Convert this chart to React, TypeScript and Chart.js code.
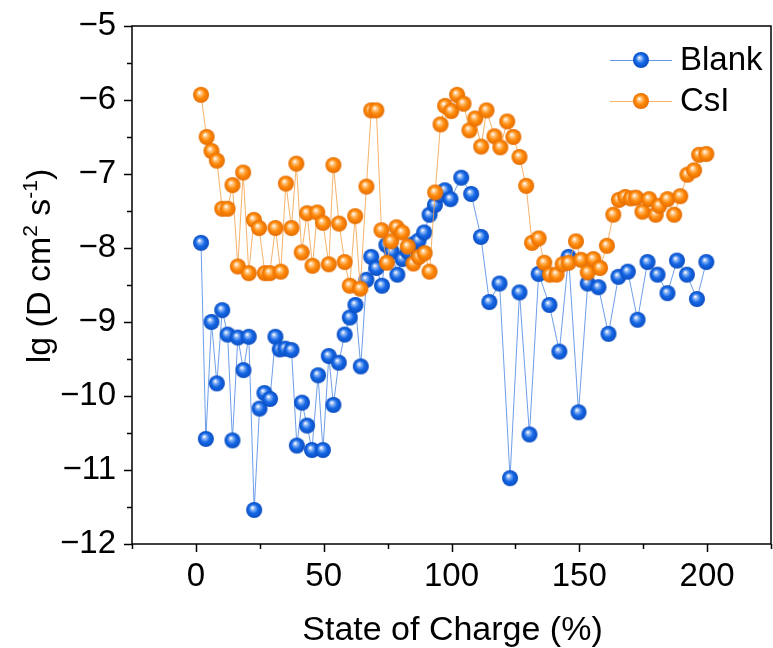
import React, { useEffect, useRef } from "react";
import { Chart, registerables } from "chart.js";

Chart.register(...registerables);

// ---- data ----
const blankX = [2, 3.9, 6.1, 8.2, 10.3, 12.4, 14.3, 16.4, 18.6, 20.7, 22.8, 24.9, 26.8, 29, 31.1, 32.8, 35, 37.4, 39.5, 41.5, 43.5, 45.4, 47.8, 49.7, 52, 53.8, 55.9, 58.2, 60.2, 62.4, 64.5, 66.7, 68.6, 70.6, 72.8, 74.5, 76.6, 78.8, 80.8, 82.9, 85, 87.1, 89.3, 91.4, 93.5, 95.6, 97.4, 99.6, 103.8, 107.7, 111.5, 114.8, 118.8, 122.9, 126.6, 130.5, 134.1, 138.3, 142.2, 145.8, 149.7, 153.3, 157.5, 161.4, 165.3, 169, 172.8, 176.7, 180.6, 184.5, 188.2, 192.1, 196, 199.7];
const blankY = [-7.93, -10.58, -9.0, -9.83, -8.84, -9.17, -10.6, -9.21, -9.65, -9.2, -11.54, -10.17, -9.96, -10.04, -9.2, -9.37, -9.36, -9.38, -10.67, -10.09, -10.4, -10.73, -9.72, -10.73, -9.46, -10.12, -9.55, -9.17, -8.94, -8.77, -9.6, -8.43, -8.12, -8.27, -8.51, -7.96, -8.05, -8.36, -8.15, -8.05, -7.95, -7.9, -7.79, -7.55, -7.42, -7.28, -7.22, -7.34, -7.05, -7.27, -7.85, -8.73, -8.48, -11.11, -8.6, -10.52, -8.35, -8.77, -9.4, -8.12, -10.22, -8.48, -8.53, -9.16, -8.39, -8.32, -8.97, -8.19, -8.36, -8.61, -8.17, -8.36, -8.69, -8.19];

const csiX = [2, 4.2, 6.1, 8.2, 10.3, 12.4, 14.3, 16.4, 18.5, 20.7, 22.7, 24.7, 27, 28.9, 31.1, 33.2, 35.2, 37.4, 39.3, 41.4, 43.5, 45.6, 47.5, 49.7, 52, 53.8, 56, 58.2, 60.2, 62.3, 64.3, 66.7, 68.6, 70.6, 72.6, 74.7, 76.4, 78.5, 80.7, 82.9, 85.1, 87.3, 89.5, 91.4, 93.6, 95.7, 97.5, 99.9, 102.2, 104.7, 107, 109.3, 111.6, 113.7, 116.8, 119.1, 121.8, 124.2, 126.6, 129.2, 131.5, 134.1, 136.3, 138.5, 141.1, 143.5, 145.8, 148.7, 150.7, 153.3, 155.5, 158.1, 160.8, 163.3, 165.5, 168, 170.2, 172.2, 174.7, 177.3, 179.9, 181.3, 184.5, 187.1, 189.5, 192.3, 194.9, 196.9, 199.7];
const csiY = [-5.93, -6.5, -6.69, -6.82, -7.47, -7.47, -7.15, -8.25, -6.98, -8.34, -7.62, -7.73, -8.34, -8.34, -7.73, -8.32, -7.13, -7.73, -6.86, -8.06, -7.53, -8.24, -7.52, -7.66, -8.22, -6.88, -7.67, -8.19, -8.51, -7.57, -8.55, -7.17, -6.14, -6.14, -7.76, -8.2, -7.91, -7.72, -7.79, -7.98, -8.21, -8.12, -8.07, -8.32, -7.25, -6.33, -6.08, -6.15, -5.93, -6.05, -6.41, -6.25, -6.63, -6.14, -6.49, -6.64, -6.29, -6.5, -6.77, -7.16, -7.93, -7.87, -8.2, -8.36, -8.36, -8.22, -8.2, -7.91, -8.16, -8.33, -8.15, -8.27, -7.97, -7.55, -7.35, -7.31, -7.33, -7.32, -7.51, -7.34, -7.55, -7.43, -7.34, -7.55, -7.3, -7.01, -6.95, -6.74, -6.73];

const seriesNames = ["Blank", "CsI"];
const xTitle = "State of Charge (%)";
const xMin = -25, xMax = 225, xStep = 25;
const yMin = -12, yMax = -5, yStep = 0.5;

const FONT = 'Arial, "Liberation Sans", sans-serif';

function makeSphere(r: number, light: string, base: string, dark: string) {
  const size = 2 * r + 2;
  const c = document.createElement("canvas");
  c.width = size;
  c.height = size;
  const ctx = c.getContext("2d")!;
  const cx = size / 2, cy = size / 2;
  const g = ctx.createRadialGradient(cx - r * 0.22, cy - r * 0.3, r * 0.05, cx, cy, r);
  g.addColorStop(0, "#ffffff");
  g.addColorStop(0.2, light);
  g.addColorStop(0.55, base);
  g.addColorStop(1, dark);
  ctx.fillStyle = g;
  ctx.beginPath();
  ctx.arc(cx, cy, r, 0, Math.PI * 2);
  ctx.fill();
  return c;
}

function zeroPad(s: any) {
  s.paddingTop = 0;
  s.paddingBottom = 0;
  s.paddingLeft = 0;
  s.paddingRight = 0;
}

export default function App() {
  const ref = useRef<HTMLCanvasElement | null>(null);

  useEffect(() => {
    document.body.style.margin = "0";
    const blueBall = makeSphere(8, "#8fb8f5", "#1668e6", "#0a4cc0");
    const orangeBall = makeSphere(8, "#ffc887", "#ff8a0a", "#e56c00");

    const overlay = {
      id: "overlay",
      afterDraw(chart: any) {
        const { ctx, chartArea: a } = chart;
        const xs = chart.scales.x;
        const ys = chart.scales.y;
        ctx.save();
        ctx.strokeStyle = "#000";
        ctx.lineWidth = 1.5;
        ctx.strokeRect(a.left, a.top, a.right - a.left, a.bottom - a.top);
        ctx.beginPath();
        xs.ticks.forEach((t: any) => {
          const px = Math.round(xs.getPixelForValue(t.value)) + 0.5;
          const major = Math.abs(t.value % 50) < 1e-6;
          ctx.moveTo(px, a.bottom);
          ctx.lineTo(px, a.bottom + (major ? 8 : 5));
        });
        ys.ticks.forEach((t: any) => {
          const py = Math.round(ys.getPixelForValue(t.value)) + 0.5;
          const major = Math.abs(t.value % 1) < 1e-6;
          ctx.moveTo(a.left, py);
          ctx.lineTo(a.left - (major ? 8 : 5), py);
        });
        ctx.stroke();

        // legend
        const items = [
          { name: seriesNames[0], line: "rgba(60,125,225,0.8)", ball: blueBall, y: 60 },
          { name: seriesNames[1], line: "rgba(245,165,80,0.85)", ball: orangeBall, y: 101 },
        ];
        ctx.font = `33px ${FONT}`;
        ctx.textBaseline = "middle";
        ctx.textAlign = "left";
        items.forEach((it) => {
          ctx.strokeStyle = it.line;
          ctx.lineWidth = 1;
          ctx.beginPath();
          ctx.moveTo(610, it.y + 0.5);
          ctx.lineTo(672, it.y + 0.5);
          ctx.stroke();
          ctx.drawImage(it.ball, 641 - it.ball.width / 2, it.y - it.ball.height / 2);
          ctx.fillStyle = "#000";
          ctx.fillText(it.name, 680, it.y + 1);
        });

        // x title
        ctx.fillStyle = "#000";
        ctx.font = `34px ${FONT}`;
        ctx.textAlign = "center";
        ctx.textBaseline = "alphabetic";
        ctx.fillText(xTitle, (a.left + a.right) / 2 + 1, 640);

        // y title with superscripts
        const segs = [
          { t: "lg (D cm", s: false },
          { t: "2", s: true },
          { t: " s", s: false },
          { t: "-1", s: true },
          { t: ")", s: false },
        ];
        const mainF = `34px ${FONT}`;
        const supF = `21px ${FONT}`;
        let total = 0;
        const widths = segs.map((sg) => {
          ctx.font = sg.s ? supF : mainF;
          const w = ctx.measureText(sg.t).width;
          total += w;
          return w;
        });
        ctx.translate(50, 266);
        ctx.rotate(-Math.PI / 2);
        ctx.textAlign = "left";
        let cx = -total / 2;
        segs.forEach((sg, i) => {
          ctx.font = sg.s ? supF : mainF;
          ctx.fillText(sg.t, cx, sg.s ? -13 : 0);
          cx += widths[i];
        });
        ctx.restore();
      },
    };

    const chart = new Chart(ref.current!, {
      type: "line",
      data: {
        datasets: [
          {
            label: seriesNames[0],
            data: blankX.map((x, i) => ({ x, y: blankY[i] })),
            borderColor: "rgba(60,125,225,0.75)",
            borderWidth: 1,
            pointStyle: blueBall as any,
            pointRadius: 8,
            pointHoverRadius: 8,
            fill: false,
            tension: 0,
            order: 2,
          },
          {
            label: seriesNames[1],
            data: csiX.map((x, i) => ({ x, y: csiY[i] })),
            borderColor: "rgba(245,165,80,0.85)",
            borderWidth: 1,
            pointStyle: orangeBall as any,
            pointRadius: 8,
            pointHoverRadius: 8,
            fill: false,
            tension: 0,
            order: 1,
          },
        ],
      },
      options: {
        responsive: false,
        animation: false,
        devicePixelRatio: 1,
        layout: { autoPadding: false, padding: { left: 0, right: 2, top: 26, bottom: 0 } },
        plugins: { legend: { display: false }, tooltip: { enabled: false } },
        events: [],
        scales: {
          x: {
            type: "linear",
            min: xMin,
            max: xMax,
            grid: { display: false, drawTicks: false },
            border: { display: false },
            ticks: {
              stepSize: xStep,
              padding: 13,
              maxRotation: 0,
              autoSkip: false,
              color: "#000",
              font: { size: 33, family: FONT },
              callback: (v: any) => (Math.abs(v % 50) < 1e-6 ? String(v) : ""),
            },
            afterFit: (s: any) => {
              s.height = 104;
              zeroPad(s);
            },
          },
          y: {
            type: "linear",
            min: yMin,
            max: yMax,
            grid: { display: false, drawTicks: false },
            border: { display: false },
            ticks: {
              stepSize: yStep,
              padding: 16,
              autoSkip: false,
              color: "#000",
              font: { size: 33, family: FONT },
              callback: (v: any) =>
                Math.abs(v % 1) < 1e-6 ? (v < 0 ? "\u2212" + Math.abs(v) : String(v)) : "",
            },
            afterFit: (s: any) => {
              s.width = 132;
              zeroPad(s);
            },
          },
        },
      },
      plugins: [overlay],
    });
    return () => chart.destroy();
  }, []);

  return (
    <div style={{ width: 773, height: 648, background: "#fff" }}>
      <canvas ref={ref} width={773} height={648} style={{ display: "block" }} />
    </div>
  );
}
